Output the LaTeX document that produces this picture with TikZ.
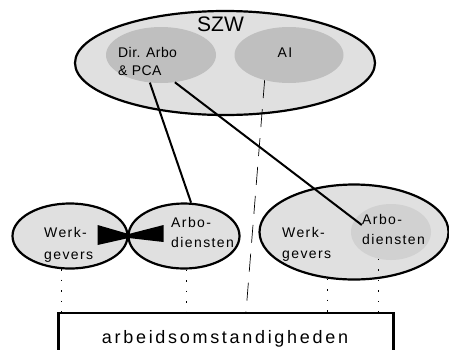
\documentclass[tikz,border=0pt]{standalone}
\usepackage{fontspec}
\setmainfont{Liberation Sans}
\usetikzlibrary{shapes.geometric, positioning, calc}

\begin{document}
\begin{tikzpicture}[
            x=1pt, y=-1pt,
            outer/.style={ellipse, draw, line width=2.2pt, fill=black!12, inner sep=0pt},
            inner/.style={ellipse, fill=black!25, inner sep=0pt},
            lbl/.style={align=left, inner sep=0pt, anchor=north west, font=\fontsize{14}{#1}\selectfont\addfontfeature{LetterSpace=10}},
            lbl/.default=20,
            dirlbl/.style={align=left, inner sep=0pt, anchor=north west, font=\fontsize{14}{18}\selectfont\addfontfeature{LetterSpace=3}},
            link/.style={line width=2pt},
            dashline/.style={line width=0.7pt, dash pattern=on 18pt off 11pt},
            dots/.style={line width=1pt, dash pattern=on 1.5pt off 9pt}
        ]
            \useasboundingbox (0,0) rectangle (449,349);
            \clip (0,0) rectangle (449,349);

            % SZW
            \node[outer, minimum width=300, minimum height=104] (szw) at (225,63) {};
            \node[inner, minimum width=110, minimum height=56] (dir) at (161,55) {};
            \node[inner, minimum width=109, minimum height=56] (ai) at (289,55) {};
            \node[font=\fontsize{21}{24}\selectfont, inner sep=0pt, anchor=base] (szwtext) at (220.5,31) {SZW};
            \node[dirlbl] (dirtext) at (118,47.5) {Dir. Arbo\\\& PCA};
            \node[lbl, anchor=center] (aitext) at (285,53) {AI};

            % left pair
            \node[outer, minimum width=115, minimum height=65] (werkL) at (70,236) {};
            \node[outer, minimum width=111, minimum height=65] (arboL) at (184,236) {};
            \coordinate (knot) at (werkL.east);
            \fill ($(knot)+(-31,-11)$) -- ($(knot)+(0,-2)$) -- ($(knot)+(35,-11)$)
                -- ($(knot)+(35,6)$) -- ($(knot)+(0,2)$) -- ($(knot)+(-31,9)$) -- cycle;
            \node[lbl=22] (werkLtext) at (44,227.5) {Werk-\\gevers};
            \node[lbl] (arboLtext) at (171,217.5) {Arbo-\\diensten};

            % right pair
            \node[outer, minimum width=189, minimum height=95] (werkR) at (354,232) {};
            \node[inner, fill=black!18, minimum width=80, minimum height=56] (arboR) at (391,232) {};
            \node[lbl=21] (werkRtext) at (282,227.5) {Werk-\\gevers};
            \node[lbl] (arboRtext) at (362,214.5) {Arbo-\\diensten};

            % box
            \node[draw, line width=2.2pt, minimum width=335, minimum height=60, anchor=north] (box) at (226,312) {};
            \node[anchor=base, inner sep=0pt, font=\fontsize{18}{22}\selectfont\addfontfeature{LetterSpace=15}] (boxtext) at (225,343) {arbeidsomstandigheden};

            % connectors
            \coordinate (arboTip) at ($(arboR.west)+(11,-7)$);
            \coordinate (aiFoot) at ($(box.north)+(20,0)$);
            \draw[link] (dir.-112) -- (arboL.78);
            \draw[link] (dir.-63) -- (arboTip);
            \draw[dashline] (ai.-134) -- (aiFoot);
            \draw[dots] (werkL.-105) -- (werkL.-105 |- box.north);
            \draw[dots] (arboL.-85) -- (arboL.-85 |- box.north);
            \draw[dots] (werkR.-120) -- (werkR.-120 |- box.north);
            \draw[dots] (arboR.-115) -- (arboR.-115 |- box.north);
        \end{tikzpicture}
\end{document}
